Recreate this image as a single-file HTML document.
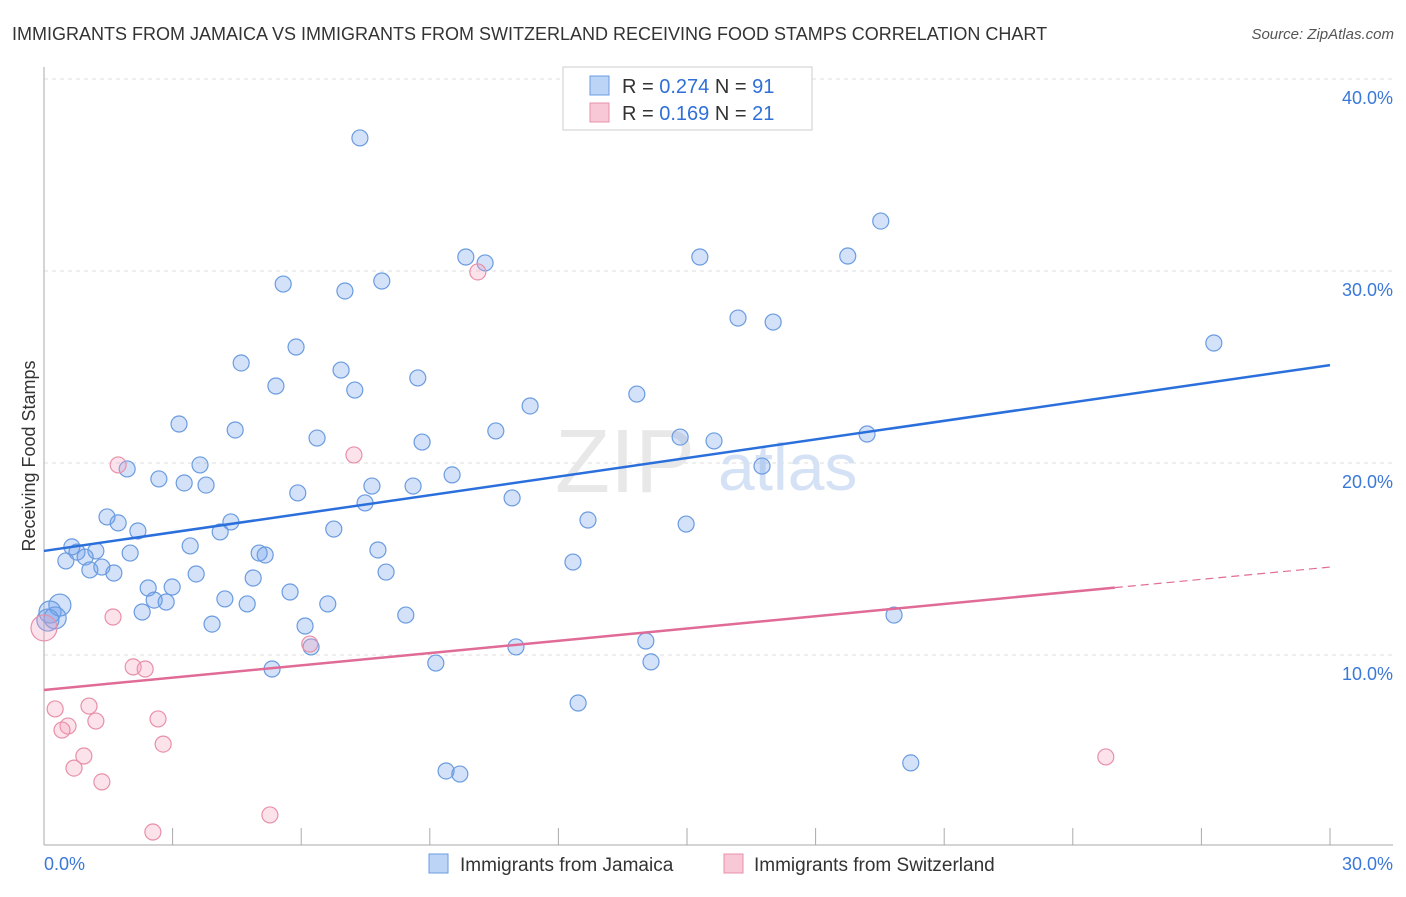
<!DOCTYPE html>
<html><head><meta charset="utf-8"><style>
body{margin:0;background:#fff;font-family:"Liberation Sans",sans-serif;}
svg text{font-family:"Liberation Sans",sans-serif;}
</style></head><body>
<svg id="chart" width="1406" height="892">
<text x="12" y="40" font-size="18" fill="#333">IMMIGRANTS FROM JAMAICA VS IMMIGRANTS FROM SWITZERLAND RECEIVING FOOD STAMPS CORRELATION CHART</text>
<text x="1394" y="39" font-size="15" fill="#555" text-anchor="end" font-style="italic">Source: ZipAtlas.com</text>
<text x="35" y="456" font-size="18" fill="#333" text-anchor="middle" transform="rotate(-90 35 456)">Receiving Food Stamps</text>
<g id="grid"></g>
<text x="555" y="492" font-size="90" fill="#e8e8e8" font-family="Liberation Serif">ZIP</text>
<text x="718" y="490" font-size="66" fill="#d5e2f5">atlas</text>
<g id="marks"></g>
<g>
<rect x="563" y="67" width="249" height="63" fill="#fff" stroke="#ccc"/>
<rect x="590" y="76" width="19" height="19" fill="#bcd4f5" stroke="#6a9be0"/>
<text x="622" y="93" font-size="20" fill="#333">R = <tspan fill="#2f6fd8">0.274</tspan>   N = <tspan fill="#2f6fd8">91</tspan></text>
<rect x="590" y="103" width="19" height="19" fill="#f8c8d6" stroke="#e890a8"/>
<text x="622" y="120" font-size="20" fill="#333">R =  <tspan fill="#2f6fd8">0.169</tspan>   N = <tspan fill="#2f6fd8">21</tspan></text>
</g>
<g>
<rect x="429" y="854" width="19" height="19" fill="#bcd4f5" stroke="#6a9be0"/>
<text x="460" y="871" font-size="19" fill="#333">Immigrants from Jamaica</text>
<rect x="724" y="854" width="19" height="19" fill="#f8c8d6" stroke="#e890a8"/>
<text x="754" y="871" font-size="19" fill="#333">Immigrants from Switzerland</text>
</g>
</svg>
<script>
const yTicks=[10,20,30,40];
const yTickLabels=["10.0%","20.0%","30.0%","40.0%"];
const xTickLabels=["0.0%","30.0%"];
const jamaicaX=[7.37,19.52,9.84,10.29,15.30,18.75,5.58,7.02,7.88,16.19,17.01,27.29,5.88,4.60,6.93,5.41,7.25,8.72,13.83,11.34,3.15,4.46,6.37,10.54,8.82,14.84,15.63,19.20,1.94,3.64,16.75,2.68,3.27,3.78,9.52,5.92,7.65,8.61,7.49,10.92,1.47,1.73,2.19,4.36,4.11,6.76,12.69,14.98,0.65,0.77,1.21,0.96,2.01,0.51,3.41,5.02,5.16,7.79,12.34,1.07,1.35,1.63,3.55,4.88,7.98,2.43,2.99,5.74,2.57,2.85,4.22,4.74,6.62,0.37,2.29,0.14,0.26,8.44,19.83,3.92,6.09,6.23,11.01,14.04,9.14,14.16,5.32,12.46,9.38,9.70,20.22,0.09];
const jamaicaY=[36.93,32.6,30.73,30.42,30.73,30.78,29.32,28.96,29.48,27.55,27.34,26.25,26.04,25.21,24.84,24.01,23.80,24.43,23.59,22.97,22.03,21.72,21.30,21.67,21.09,21.35,21.15,21.51,19.69,19.90,19.84,19.17,18.96,18.85,19.38,18.44,18.80,18.80,17.92,18.18,17.19,16.88,16.46,16.93,16.41,16.56,17.03,16.82,15.63,15.36,15.42,15.10,15.31,14.90,15.68,15.31,15.21,15.47,14.84,14.43,14.58,14.27,14.22,14.01,14.32,13.49,13.54,13.28,12.86,12.76,12.92,12.66,12.66,12.60,12.24,12.24,11.93,12.08,12.08,11.61,11.51,10.42,10.42,10.73,9.58,9.64,9.27,7.50,3.96,3.80,4.38,11.82];
const swissX=[0.0,10.12,7.23,1.73,1.61,6.20,2.08,2.36,0.26,1.05,0.56,1.21,0.42,2.66,0.93,2.78,0.70,1.35,2.54,5.27,24.77];
const swissY=[11.41,29.95,20.42,19.90,11.98,10.57,9.38,9.27,7.19,7.34,6.30,6.56,6.09,6.67,4.74,5.36,4.11,3.39,0.78,1.67,4.69];
const jamaicaTrend=[15.42,25.10];
const swissTrend=[8.18,14.58];
const swissSolidEnd=24.98;

const X0=44,X1=1330,Y0=847;
const sx=v=>X0+v*(X1-X0)/30;
const sy=v=>Y0-v*19.2;
const NS="http://www.w3.org/2000/svg";
function mk(tag,attrs,parent){const e=document.createElementNS(NS,tag);for(const k in attrs)e.setAttribute(k,attrs[k]);parent.appendChild(e);return e;}
const grid=document.getElementById('grid'),marks=document.getElementById('marks'),svg=document.getElementById('chart');
yTicks.forEach((t,i)=>{
 const l=mk('line',{x1:X0,x2:1393,y1:sy(t),y2:sy(t),stroke:'#ddd','stroke-dasharray':'4,4'},grid);
 
 
 const tx=mk('text',{x:1393,y:sy(t)+25,'font-size':18,fill:'#3a78d8','text-anchor':'end'},grid);
 tx.textContent=yTickLabels[i];
 
 
});
const la=mk('line',{x1:X0,x2:X0,y1:67,y2:845,stroke:'#aaa'},grid);


const ba=mk('line',{x1:X0,x2:1393,y1:845,y2:845,stroke:'#aaa'},grid);


for(let i=1;i<=10;i++){
 const t=mk('line',{x1:sx(i*3),x2:sx(i*3),y1:828,y2:845,stroke:'#aaa'},grid);
 
 
}
[[0,'start'],[30,'end']].forEach((p,i)=>{
 const tx=mk('text',{x:i?1393:44,y:870,'font-size':18,fill:'#3a78d8','text-anchor':p[1]},grid);
 tx.textContent=xTickLabels[i];
 
 
});
jamaicaX.forEach((x,i)=>{
 const c=mk('circle',{cx:sx(x),cy:sy(jamaicaY[i]),r:(x<0.4?11:8),fill:'rgba(110,160,235,0.3)',stroke:'#6a9be0','stroke-width':1.2},marks);
 
 
});
swissX.forEach((x,i)=>{
 const c=mk('circle',{cx:sx(x),cy:sy(swissY[i]),r:(i==0?13:8),fill:'rgba(245,160,190,0.3)',stroke:'#e890a8','stroke-width':1.2},marks);
 
 
});
const bl=mk('line',{x1:sx(0),y1:sy(jamaicaTrend[0]),x2:sx(30),y2:sy(jamaicaTrend[1]),stroke:'#2a6fdb','stroke-width':2.5},marks);


const slope=(swissTrend[1]-swissTrend[0])/30;
const ym=swissTrend[0]+slope*swissSolidEnd;
const pl=mk('line',{x1:sx(0),y1:sy(swissTrend[0]),x2:sx(swissSolidEnd),y2:sy(ym),stroke:'#e06b96','stroke-width':2.5},marks);


const pd=mk('line',{x1:sx(swissSolidEnd),y1:sy(ym),x2:sx(30),y2:sy(swissTrend[1]),stroke:'#e06b96','stroke-width':1.2,'stroke-dasharray':'8,5'},marks);


</script>
</body></html>
